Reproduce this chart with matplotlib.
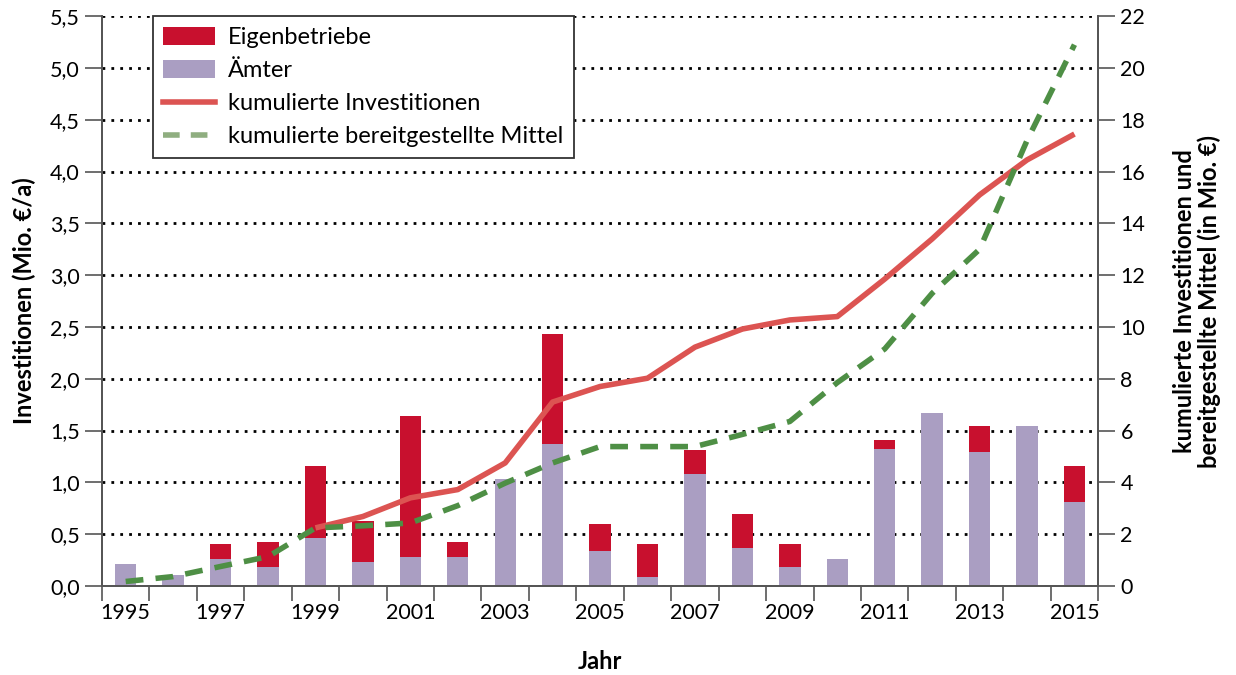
import numpy as np
import matplotlib
matplotlib.use("Agg")
import matplotlib.pyplot as plt
from matplotlib.lines import Line2D
import matplotlib.patches as mpatches

plt.rcParams["font.family"] = ["Lato", "DejaVu Sans"]

# data
years = list(range(1995, 2016))
aemter = [0.21, 0.11, 0.26, 0.18, 0.46, 0.235, 0.28, 0.28, 1.03, 1.37, 0.34,
          0.09, 1.08, 0.37, 0.18, 0.26, 1.32, 1.67, 1.29, 1.54, 0.81]
eigen = [0.0, 0.0, 0.14, 0.24, 0.70, 0.395, 1.36, 0.14, 0.0, 1.06, 0.26,
         0.31, 0.23, 0.32, 0.22, 0.0, 0.09, 0.0, 0.25, 0.0, 0.35]
kum_years = list(range(1999, 2016))
kum_invest = [2.24, 2.68, 3.40, 3.72, 4.75, 7.10, 7.70, 8.02, 9.22, 9.92,
              10.27, 10.40, 11.85, 13.40, 15.10, 16.45, 17.45]
mittel = [0.17, 0.36, 0.75, 1.13, 2.24, 2.32, 2.43, 3.10, 3.97, 4.75, 5.38,
          5.38, 5.38, 5.85, 6.35, 7.85, 9.15, 11.3, 13.0, 17.2, 20.9]

C_EIGEN = "#c8102e"
C_AEMTER = "#aa9ec2"
C_INV = "#dc5452"
C_MITTEL = "#4e8f45"
C_SPINE = "#555555"

fig = plt.figure(figsize=(12.36, 6.75), dpi=100)
ax = fig.add_axes([0.0825, 0.132, 0.806, 0.844])
ax2 = ax.twinx()

x = np.array(years)
ax.bar(x, aemter, width=0.45, color=C_AEMTER, zorder=2)
ax.bar(x, eigen, width=0.45, bottom=aemter, color=C_EIGEN, zorder=2)

ax2.plot(kum_years, kum_invest, color=C_INV, lw=4, solid_capstyle="butt", zorder=3)
ax2.plot(years, mittel, color=C_MITTEL, lw=4, ls=(0, (3.2, 2.2)), zorder=4)

ax.set_xlim(1994.5, 2015.5)
ax.set_ylim(0, 5.5)
ax2.set_ylim(0, 22)

ax.set_yticks(np.arange(0, 5.51, 0.5))
ax.set_yticklabels([f"{v:.1f}".replace(".", ",") for v in np.arange(0, 5.51, 0.5)])
ax2.set_yticks(range(0, 23, 2))

ax.set_xticks(range(1995, 2016, 2))
ax.set_xticks(np.arange(1994.5, 2015.6, 1), minor=True)
ax.tick_params(axis="x", which="major", length=0, pad=12, labelsize=15.5)
ax.tick_params(axis="x", which="minor", length=11, width=1.2, color=C_SPINE, direction="out")
ax.tick_params(axis="y", length=12, width=1.2, color=C_SPINE, labelsize=15.5, pad=4)
ax2.tick_params(axis="y", length=12, width=1.2, color=C_SPINE, labelsize=15.5, pad=4)

ax.yaxis.grid(True, color="black", ls=(0, (1, 2.2)), lw=2.0, zorder=0)
ax.set_axisbelow(True)

for a in (ax, ax2):
    a.spines["top"].set_visible(False)
    for s in ("left", "right", "bottom"):
        a.spines[s].set_color(C_SPINE)
        a.spines[s].set_linewidth(1.3)

ax.set_xlabel("Jahr", fontsize=17, fontweight="bold", labelpad=20)
ax.set_ylabel("Investitionen (Mio. €/a)", fontsize=17, fontweight="bold", labelpad=10)
ax2.set_ylabel("kumulierte Investitionen und\nbereitgestellte Mittel (in Mio. €)",
               fontsize=17, fontweight="bold", labelpad=20, linespacing=1.05)

handles = [
    mpatches.Patch(facecolor=C_EIGEN, label="Eigenbetriebe"),
    mpatches.Patch(facecolor=C_AEMTER, label="Ämter"),
    Line2D([], [], color=C_INV, lw=4, label="kumulierte Investitionen"),
    Line2D([], [], color="#8fae80", lw=4, ls=(0, (3, 2)), label="kumulierte bereitgestellte Mittel"),
]
leg = ax2.legend(handles=handles, loc="upper left", bbox_to_anchor=(0.051, 1.0),
                 borderaxespad=0, fontsize=17, frameon=True, fancybox=False,
                 framealpha=1, edgecolor="#333333", borderpad=0.45,
                 labelspacing=0.5, handlelength=2.2, handleheight=0.8,
                 handletextpad=0.55)
leg.get_frame().set_linewidth(1.3)
leg.set_zorder(10)

fig.savefig("out.png", dpi=100)
